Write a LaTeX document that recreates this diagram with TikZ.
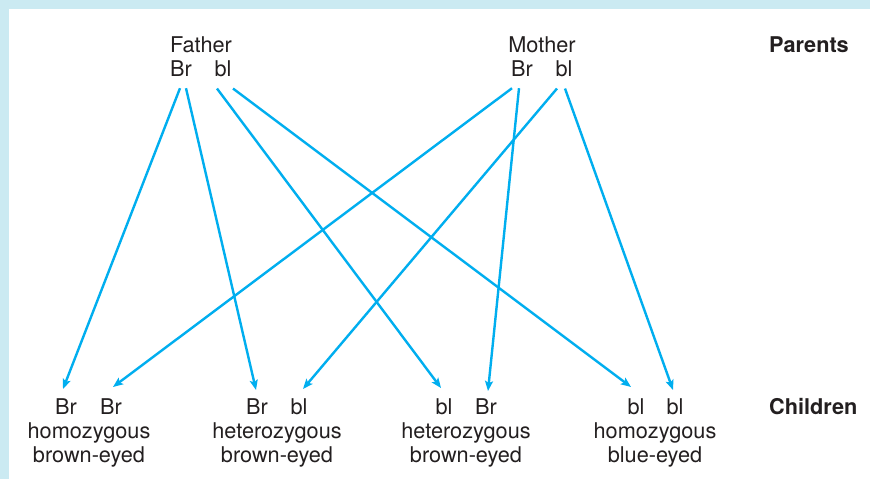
\documentclass[tikz,border=0pt]{standalone}
\usepackage{fontspec}
\setmainfont{TeX Gyre Heros}
\usetikzlibrary{arrows.meta,calc}
\definecolor{band}{RGB}{203,234,242}
\definecolor{arrowblue}{RGB}{0,174,239}
\definecolor{txt}{RGB}{35,31,32}
\tikzset{
  lbl/.style={inner sep=0pt, anchor=base, text=txt, font=\fontsize{21.7}{24}\selectfont},
  hdr/.style={inner sep=0pt, anchor=base west, text=txt, font=\fontsize{21.7}{24}\selectfont\bfseries},
  arr/.style={draw=arrowblue, line width=2.4pt, -{Stealth[length=10pt,width=8pt,inset=2pt]}}
}
\begin{document}
\begin{tikzpicture}[x=1pt,y=-1pt]
\useasboundingbox (0,0) rectangle (870,479);
\fill[white] (0,0) rectangle (870,479);
\fill[band] (0,0) rectangle (870,9);
\fill[band] (0,0) rectangle (9,479);
% parents
\node[lbl] (father) at (201,52) {Father};
\node[lbl] (fBr) at (181,76) {Br};
\node[lbl] (fbl) at (223,76) {bl};
\node[lbl] (mother) at (542,52) {Mother};
\node[lbl] (mBr) at (522,76) {Br};
\node[lbl] (mbl) at (564,76) {bl};
\node[hdr] (parents) at (769,52) {Parents};
% children
\node[lbl] (c1a) at (66,414) {Br};
\node[lbl] (c1b) at (111,414) {Br};
\node[lbl] (c2a) at (257,414) {Br};
\node[lbl] (c2b) at (299,414) {bl};
\node[lbl] (c3a) at (444,414) {bl};
\node[lbl] (c3b) at (486,414) {Br};
\node[lbl] (c4a) at (636,414) {bl};
\node[lbl] (c4b) at (675,414) {bl};
\node[lbl] (d1a) at (89,438) {homozygous};
\node[lbl] (d1b) at (89,462) {brown-eyed};
\node[lbl] (d2a) at (277,438) {heterozygous};
\node[lbl] (d2b) at (277,462) {brown-eyed};
\node[lbl] (d3a) at (466,438) {heterozygous};
\node[lbl] (d3b) at (466,462) {brown-eyed};
\node[lbl] (d4a) at (655,438) {homozygous};
\node[lbl] (d4b) at (655,462) {blue-eyed};
\node[hdr] (children) at (769,414) {Children};
% arrows
\draw[arr] ($(fBr.south)+(-1,12)$) -- ($(c1a.north)+(-3,-9)$);
\draw[arr] ($(fBr.south)+(5,12)$) -- ($(c2a.north)+(-1,-8)$);
\draw[arr] ($(fbl.south)+(-6,12)$) -- ($(c3a.north)+(-3,-10)$);
\draw[arr] ($(fbl.south)+(10,12)$) -- ($(c4a.north)+(-5,-11)$);
\draw[arr] ($(mBr.south)+(-10,12)$) -- ($(c1b.north)+(2,-11)$);
\draw[arr] ($(mBr.south)+(-3,12)$) -- ($(c3b.north)+(2,-7)$);
\draw[arr] ($(mbl.south)+(-7,12)$) -- ($(c2b.north)+(4,-9)$);
\draw[arr] ($(mbl.south)+(1,12)$) -- ($(c4b.north)+(-2,-8)$);
\end{tikzpicture}
\end{document}
